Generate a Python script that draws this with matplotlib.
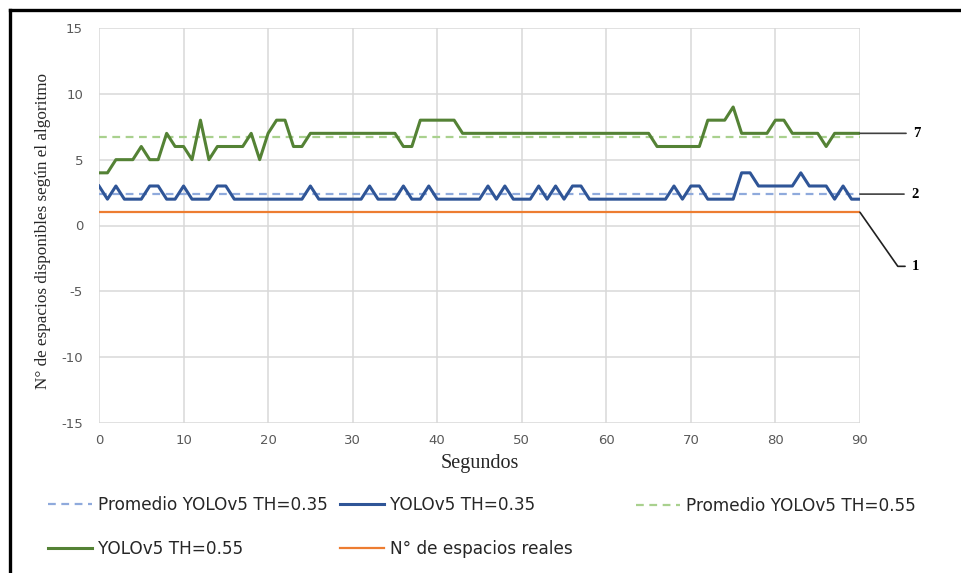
import numpy as np
import matplotlib
matplotlib.use("Agg")
import matplotlib.pyplot as plt
from matplotlib.lines import Line2D

plt.rcParams["axes.unicode_minus"] = False

# ---- data -------------------------------------------------------------
seconds = list(range(0, 91))

yolo_035 = [3, 2, 3, 2, 2, 2, 3, 3, 2, 2,
            3, 2, 2, 2, 3, 3, 2, 2, 2, 2,
            2, 2, 2, 2, 2, 3, 2, 2, 2, 2,
            2, 2, 3, 2, 2, 2, 3, 2, 2, 3,
            2, 2, 2, 2, 2, 2, 3, 2, 3, 2,
            2, 2, 3, 2, 3, 2, 3, 3, 2, 2,
            2, 2, 2, 2, 2, 2, 2, 2, 3, 2,
            3, 3, 2, 2, 2, 2, 4, 4, 3, 3,
            3, 3, 3, 4, 3, 3, 3, 2, 3, 2,
            2]

yolo_055 = [4, 4, 5, 5, 5, 6, 5, 5, 7, 6,
            6, 5, 8, 5, 6, 6, 6, 6, 7, 5,
            7, 8, 8, 6, 6, 7, 7, 7, 7, 7,
            7, 7, 7, 7, 7, 7, 6, 6, 8, 8,
            8, 8, 8, 7, 7, 7, 7, 7, 7, 7,
            7, 7, 7, 7, 7, 7, 7, 7, 7, 7,
            7, 7, 7, 7, 7, 7, 6, 6, 6, 6,
            6, 6, 8, 8, 8, 9, 7, 7, 7, 7,
            8, 8, 7, 7, 7, 7, 6, 7, 7, 7,
            7]

real_spaces = [1] * len(seconds)

avg_035 = [np.mean(yolo_035)] * len(seconds)
avg_055 = [np.mean(yolo_055)] * len(seconds)

labels = ["Promedio YOLOv5 TH=0.35", "YOLOv5 TH=0.35",
          "Promedio YOLOv5 TH=0.55", "YOLOv5 TH=0.55",
          "N° de espacios reales"]

x_ticks = list(range(0, 91, 10))
y_ticks = list(range(-15, 16, 5))

# ---- styling ----------------------------------------------------------
c_avg035 = "#8FAADC"
c_035 = "#2F5597"
c_avg055 = "#A9D18E"
c_055 = "#548235"
c_real = "#ED7D31"

W, H = 961, 573
fig = plt.figure(figsize=(W / 100, H / 100), dpi=100)
fig.patch.set_facecolor("white")

ax = fig.add_axes([99 / W, 1 - 423 / H, (860 - 99) / W, (423 - 28) / H])

dash = (3.5, 2.5)
l1, = ax.plot(seconds, avg_035, color=c_avg035, lw=1.6, dashes=dash)
l2, = ax.plot(seconds, yolo_035, color=c_035, lw=2.2)
l3, = ax.plot(seconds, avg_055, color=c_avg055, lw=1.6, dashes=dash)
l4, = ax.plot(seconds, yolo_055, color=c_055, lw=2.2)
l5, = ax.plot(seconds, real_spaces, color=c_real, lw=1.6)

ax.set_xlim(0, 90)
ax.set_ylim(-15, 15)
ax.set_xticks(x_ticks)
ax.set_yticks(y_ticks)
for s in ax.spines.values():
    s.set_visible(False)
ax.grid(True, color="#D9D9D9", lw=1.1)
ax.set_axisbelow(True)
ax.tick_params(length=0, labelsize=9.5, labelcolor="#595959")
ax.tick_params(axis="x", pad=8)
ax.tick_params(axis="y", pad=11.5)
for lab in ax.get_xticklabels() + ax.get_yticklabels():
    lab.set_family("DejaVu Sans")

ax.set_xlabel("Segundos", family="Liberation Serif", fontsize=14.5,
              color="#262626", labelpad=5)
ax.set_ylabel("N° de espacios disponibles según el algoritmo",
              family="Liberation Serif", fontsize=12.3, color="#262626")
ax.yaxis.set_label_coords((51 - 99) / 761, (423 - 231) / 395)

# ---- end-of-series labels --------------------------------------------
lab_kw = dict(family="Liberation Serif", fontsize=10.5, fontweight="bold",
              ha="left", va="center", textcoords="offset pixels",
              annotation_clip=False)
ax.annotate(f"{yolo_055[-1]:.0f}", xy=(seconds[-1], yolo_055[-1]),
            xytext=(53, 0),
            arrowprops=dict(arrowstyle="-", color="#404040", lw=1.2,
                            shrinkA=3, shrinkB=0, relpos=(0, 0.5)),
            **lab_kw)
ax.annotate(f"{avg_035[-1]:.0f}", xy=(seconds[-1], avg_035[-1]),
            xytext=(51, 0),
            arrowprops=dict(arrowstyle="-", color="#404040", lw=1.2,
                            shrinkA=3, shrinkB=0, relpos=(0, 0.5)),
            **lab_kw)
ax.annotate(f"{real_spaces[-1]:.0f}", xy=(seconds[-1], real_spaces[-1]),
            xytext=(52, -54),
            arrowprops=dict(arrowstyle="-", color="#202020", lw=1.2,
                            shrinkA=3, shrinkB=0, relpos=(0, 0.5),
                            connectionstyle="angle,angleA=0,angleB=-55,rad=0"),
            **lab_kw)

# ---- legend (three columns, row-major) -------------------------------
leg_kw = dict(frameon=False, loc="center left", borderpad=0,
              borderaxespad=0, handlelength=2.6, handletextpad=0.35,
              labelspacing=1.53, prop={"family": "DejaVu Sans", "size": 12.2})
leg_color = "#262626"
columns = [((l1, l4), (labels[0], labels[3]), 48, 527),
           ((l2, l5), (labels[1], labels[4]), 340, 527),
           ((l3,), (labels[2],), 636, 506)]
for handles, texts, xpx, ypx in columns:
    leg = fig.legend(handles, texts, bbox_to_anchor=(xpx / W, 1 - ypx / H),
                     **leg_kw)
    for t in leg.get_texts():
        t.set_color(leg_color)

# ---- outer frame (top and left edges) --------------------------------
fig.add_artist(Line2D([10 / W, 1.0], [1 - 10 / H, 1 - 10 / H],
                      color="black", lw=2.4, transform=fig.transFigure))
fig.add_artist(Line2D([10 / W, 10 / W], [0.0, 1 - 10 / H],
                      color="black", lw=2.4, transform=fig.transFigure))

fig.savefig("out.png", dpi=100, facecolor="white")
